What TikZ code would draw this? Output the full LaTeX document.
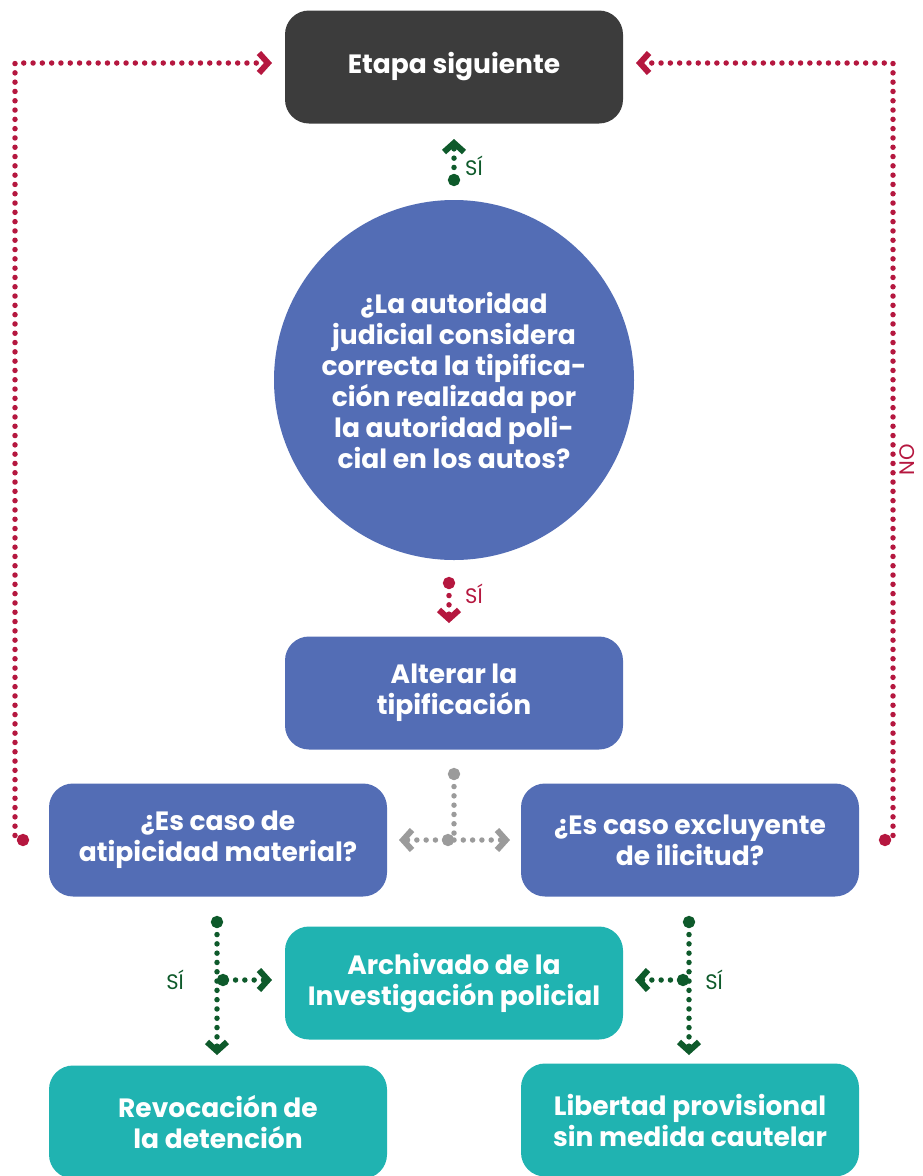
\documentclass[tikz,border=0pt]{standalone}
\usepackage{fontspec}
\setmainfont{Poppins}
\usetikzlibrary{arrows.meta}
\definecolor{cdark}{HTML}{3C3C3C}
\definecolor{cblue}{HTML}{536DB5}
\definecolor{cteal}{HTML}{20B3B1}
\definecolor{cred}{HTML}{B5173F}
\definecolor{cgreen}{HTML}{0E5A2B}
\definecolor{cgray}{HTML}{9B9B9B}
\begin{document}
\begin{tikzpicture}[x=1pt,y=-1pt,
  box/.style={rounded corners=24pt, minimum width=338pt, minimum height=113pt,
    text=white, font=\bfseries\fontsize{26.5}{31}\selectfont, align=center, inner sep=0pt},
  dotline/.style={line width=5.5pt, line cap=round, dash pattern=on 0pt off 9.3pt},
  chev/.style={-{Straight Barb[length=9pt,width=20pt,line width=6pt]}},
  dchev/.style={{Circle[length=12pt]}-{Straight Barb[length=9pt,width=20pt,line width=6pt]}},
  dline/.style={{Circle[length=12pt]}-},
  lbl/.style={font=\fontsize{21}{22}\selectfont, inner sep=0pt}]
\useasboundingbox (0,0) rectangle (922,1176);
\clip (0,0) rectangle (922,1176);
% nodes
\node[box, fill=cdark] (etapa) at (454,67) {Etapa siguiente};
\node[circle, fill=cblue, minimum size=360pt, inner sep=0pt, text=white,
  font=\bfseries\fontsize{26.5}{31}\selectfont, align=center] (preg) at (454,380)
  {¿La autoridad\\judicial considera\\correcta la tipifica-\\ción realizada por\\la autoridad poli-\\cial en los autos?};
\node[box, fill=cblue] (alterar) at (454,693) {Alterar la\\tipificación};
\node[box, fill=cblue] (atip) at (218,840) {¿Es caso de\\atipicidad material?};
\node[box, fill=cblue] (exclu) at (690,840) {¿Es caso excluyente\\de ilicitud?};
\node[box, fill=cteal] (archiv) at (454,983) {Archivado de la\\Investigación policial};
\node[box, fill=cteal] (revoc) at (218,1122) {Revocación de\\la detención};
\node[box, fill=cteal] (libert) at (690,1120) {Libertad provisional\\sin medida cautelar};
% coordinates
\coordinate (lstart) at (29,840);
\coordinate (lend) at (272,63);
\coordinate (rstart) at (879,840);
\coordinate (rend) at (636,63);
\coordinate (upstart) at (454,186);
\coordinate (upend) at (454,139);
\coordinate (dnstart) at (449,577);
\coordinate (dnend) at (449,623);
\coordinate (gtop) at (454,768);
\coordinate (gj) at (454,840);
\coordinate (gl) at (399,840);
\coordinate (gr) at (510,840);
\coordinate (latop) at (217,916);
\coordinate (laj) at (217,980);
\coordinate (labot) at (217,1055);
\coordinate (lar) at (272,980);
\coordinate (ratop) at (689,916);
\coordinate (raj) at (689,980);
\coordinate (rabot) at (689,1055);
\coordinate (ral) at (635,980);
% red loops
\draw[dotline, dchev, cred] (lstart) -- (15,840) -- (15,63) -- (lend);
\draw[dotline, dchev, cred] (rstart) -- (893,840) -- (893,63) -- (rend);
\node[lbl, text=cred, rotate=90] (no) at (907,460) {NO};
% top and middle
\draw[dotline, dchev, cgreen] (upstart) -- (upend);
\node[lbl, text=cgreen, anchor=west] (si1) at (465,166) {SÍ};
\draw[dotline, dchev, cred] (dnstart) -- (dnend);
\node[lbl, text=cred, anchor=west] (si2) at (465,594) {SÍ};
% gray T
\draw[dotline, dline, cgray] (gtop) -- (gj);
\draw[dotline, dchev, cgray] (gj) -- (gl);
\draw[dotline, chev, cgray] (gj) -- (gr);
% left green
\draw[dotline, dchev, cgreen] (latop) -- (labot);
\draw[dotline, dchev, cgreen] (laj) -- (lar);
\node[lbl, text=cgreen] (si3) at (175,980) {SÍ};
% right green
\draw[dotline, dchev, cgreen] (ratop) -- (rabot);
\draw[dotline, dchev, cgreen] (raj) -- (ral);
\node[lbl, text=cgreen] (si4) at (714,980) {SÍ};
\end{tikzpicture}
\end{document}
